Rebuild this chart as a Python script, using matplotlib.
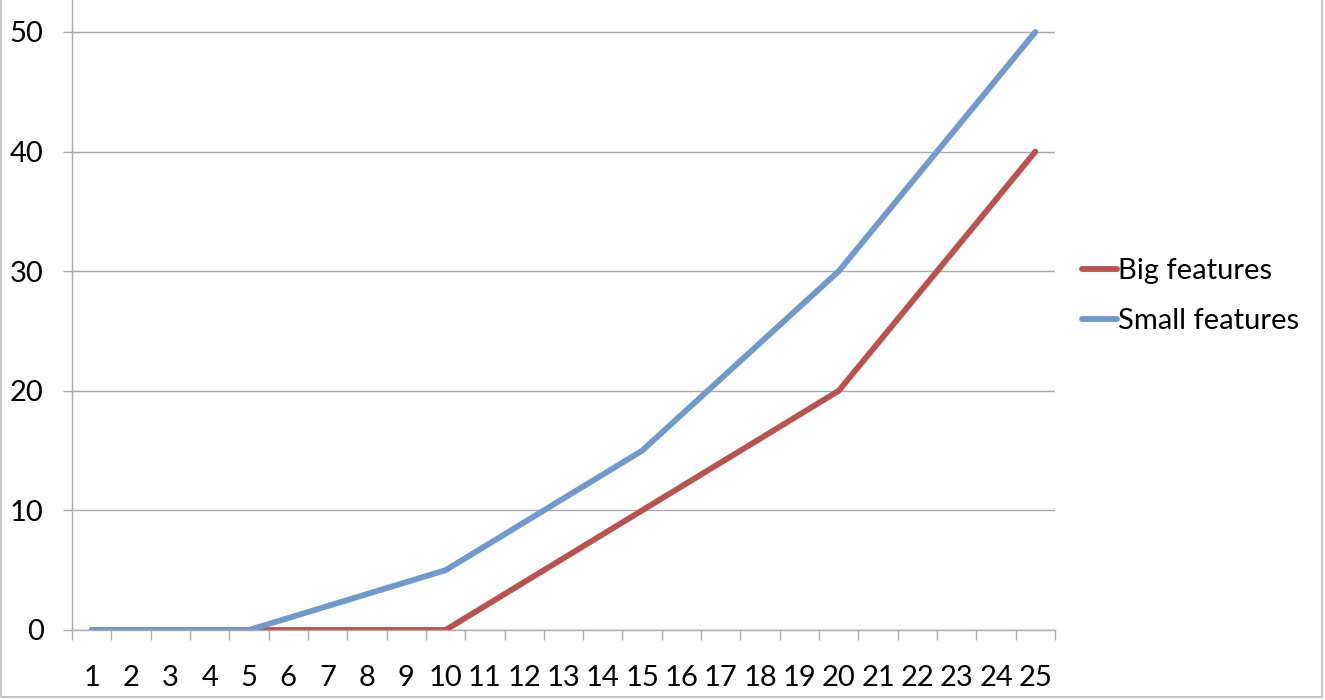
import matplotlib
matplotlib.use("Agg")
import matplotlib.pyplot as plt
from matplotlib.patches import Rectangle

categories = [str(i) for i in range(1, 26)]
big_features = [0, 0, 0, 0, 0, 0, 0, 0, 0, 0, 2, 4, 6, 8, 10,
                12, 14, 16, 18, 20, 24, 28, 32, 36, 40]
small_features = [0, 0, 0, 0, 0, 1, 2, 3, 4, 5, 7, 9, 11, 13, 15,
                  18, 21, 24, 27, 30, 34, 38, 42, 46, 50]
y_ticks = [0, 10, 20, 30, 40, 50]

red = "#BC524E"
blue = "#7099CD"
grey = "#ABABAB"

plt.rcParams['font.family'] = ['Lato', 'DejaVu Sans']
fs = 21

fig = plt.figure(figsize=(13.25, 7), dpi=100)
ax = fig.add_axes([72 / 1325, 70 / 700, 983 / 1325, 630 / 700])

x = list(range(1, len(categories) + 1))
ax.plot(x, big_features, color=red, lw=4.2, label="Big features", solid_capstyle="round")
ax.plot(x, small_features, color=blue, lw=4.2, label="Small features", solid_capstyle="round")

ax.set_xlim(0.5, len(categories) + 0.5)
ax.set_ylim(0, 50 + 32 / 11.96)

ax.set_yticks(y_ticks)
ax.set_yticklabels([str(v) for v in y_ticks])
ax.yaxis.grid(True, color=grey, lw=1)
ax.set_axisbelow(True)

# category labels centred, tick marks between categories
ax.set_xticks(x)
ax.set_xticklabels(categories)
ax.set_xticks([i + 0.5 for i in range(0, len(categories) + 1)], minor=True)
ax.tick_params(axis="x", which="major", length=0, pad=25, labelsize=fs)
ax.tick_params(axis="x", which="minor", length=7, width=1, color=grey, direction="out")
ax.tick_params(axis="y", length=6.5, width=1, color=grey, direction="out", pad=14, labelsize=fs)

for s in ["top", "right"]:
    ax.spines[s].set_visible(False)
for s in ["left", "bottom"]:
    ax.spines[s].set_color(grey)
    ax.spines[s].set_linewidth(1)

leg = ax.legend(loc="center left", bbox_to_anchor=(1082 / 1325, 1 - 296 / 700),
                bbox_transform=fig.transFigure, frameon=False, fontsize=fs,
                handlelength=1.2, handletextpad=0.03, labelspacing=0.82,
                borderpad=0, borderaxespad=0)

# outer chart border
fig.patches.append(Rectangle((0.5 / 1325, 3 / 700), 1321 / 1325, 1.0,
                             transform=fig.transFigure, fill=False,
                             edgecolor="#C8C8C8", lw=1.5))

fig.savefig("out.png", dpi=100)
